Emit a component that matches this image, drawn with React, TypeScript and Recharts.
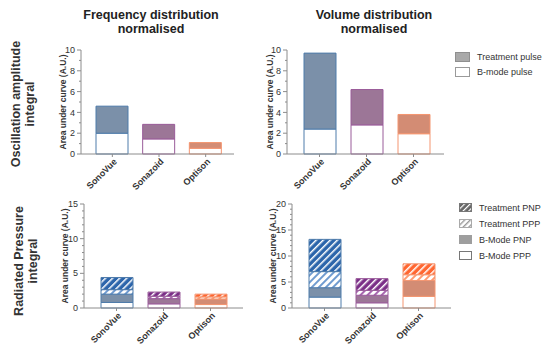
import { Bar, BarChart, Cell, XAxis, YAxis } from "recharts";

const categories = ["SonoVue", "Sonazoid", "Optison"];

// Oscillation amplitude integral: B-mode pulse at the bottom, treatment pulse stacked on top
const freqBmode = [2.0, 1.45, 0.55];
const freqTreatment = [2.6, 1.4, 0.55];
const volBmode = [2.4, 2.8, 1.95];
const volTreatment = [7.3, 3.4, 1.85];

// Radiated pressure integral
const rpFreqBmodePPP = [0.8, 0.6, 0.5];
const rpFreqBmodePNP = [1.2, 0.75, 0.8];
const rpFreqTreatPPP = [0.65, 0.35, 0.3];
const rpFreqTreatPNP = [1.75, 0.6, 0.4];
const rpVolBmodePPP = [2.1, 1.0, 2.25];
const rpVolBmodePNP = [1.8, 1.45, 3.05];
const rpVolTreatPPP = [3.1, 0.95, 1.1];
const rpVolTreatPNP = [6.2, 2.25, 2.1];

const ticks10 = [0, 1, 2, 3, 4, 5, 6, 7, 8, 9, 10];
const ticks15 = [0, 1, 2, 3, 4, 5, 6, 7, 8, 9, 10, 11, 12, 13, 14, 15];
const ticks20 = [0, 1, 2, 3, 4, 5, 6, 7, 8, 9, 10, 11, 12, 13, 14, 15, 16, 17, 18, 19, 20];

const FONT = '"Liberation Sans", Arial, Helvetica, sans-serif';
const AXIS = "#8c8c8c";
const TEXT = "#333";

const palette: Record<string, { stroke: string; solid: string; dark: string; light: string }> = {
  SonoVue: { stroke: "#4f7cab", solid: "#7b90a9", dark: "#2c65ab", light: "#6f9bd0" },
  Sonazoid: { stroke: "#9a5c9a", solid: "#9c7697", dark: "#7b2f88", light: "#a868b0" },
  Optison: { stroke: "#f49570", solid: "#d38c74", dark: "#ff6630", light: "#ff9a70" },
};

const hatchId = (kind: string, name: string) => `hatch-${kind}-${name}`;

const Patterns = () => (
  <svg width={0} height={0} style={{ position: "absolute" }}>
    <defs>
      {categories.map((c) => (
        <pattern key={"d" + c} id={hatchId("dark", c)} patternUnits="userSpaceOnUse" width={5} height={5} patternTransform="rotate(45)">
          <rect width={5} height={5} fill={palette[c].dark} />
          <rect width={1.5} height={5} fill="#fff" />
        </pattern>
      ))}
      {categories.map((c) => (
        <pattern key={"l" + c} id={hatchId("light", c)} patternUnits="userSpaceOnUse" width={5} height={5} patternTransform="rotate(45)">
          <rect width={5} height={5} fill="#fff" />
          <rect width={2} height={5} fill={palette[c].light} />
        </pattern>
      ))}
      <pattern id="leg-dark" patternUnits="userSpaceOnUse" width={4} height={4} patternTransform="rotate(45)">
        <rect width={4} height={4} fill="#666" />
        <rect width={1.2} height={4} fill="#fff" />
      </pattern>
      <pattern id="leg-light" patternUnits="userSpaceOnUse" width={4} height={4} patternTransform="rotate(45)">
        <rect width={4} height={4} fill="#fff" />
        <rect width={1.4} height={4} fill="#999" />
      </pattern>
    </defs>
  </svg>
);

type Series = { key: string; fill: (c: string) => string };

const XTick = ({ x, y, payload }: any) => (
  <text
    x={x + 3}
    y={y + 1}
    dy="0.35em"
    transform={`rotate(-45, ${x + 3}, ${y + 1})`}
    textAnchor="end"
    fontSize={9}
    fontWeight="bold"
    fontFamily={FONT}
    fill={TEXT}
  >
    {payload.value}
  </text>
);

const makeYTick = (major: number) => ({ x, y, payload }: any) => {
  const isMajor = payload.value % major === 0;
  return (
    <g>
      <line x1={isMajor ? x + 2 : x + 4} x2={x + 6} y1={y} y2={y} stroke={AXIS} />
      {isMajor && (
        <text x={x} y={y} dy="0.35em" textAnchor="end" fontSize={9} fontFamily={FONT} fill={TEXT}>
          {payload.value}
        </text>
      )}
    </g>
  );
};

const Panel = ({
  left,
  top,
  width,
  data,
  series,
  yMax,
  ticks,
  major,
  padding,
}: {
  left: number;
  top: number;
  width: number;
  data: any[];
  series: Series[];
  yMax: number;
  ticks: number[];
  major: number;
  padding: { left: number; right: number };
}) => (
  <div style={{ position: "absolute", left, top }}>
    <BarChart width={width} height={155} data={data} margin={{ top: 10, right: 6, left: 11, bottom: 0 }} barSize={32}>
      <XAxis
        dataKey="name"
        height={41}
        padding={padding}
        interval={0}
        tick={<XTick />}
        tickSize={3}
        tickLine={{ stroke: AXIS }}
        axisLine={{ stroke: AXIS }}
      />
      <XAxis xAxisId="top" dataKey="name" orientation="top" height={0} tick={false} tickLine={false} axisLine={{ stroke: AXIS }} />
      <YAxis
        width={40}
        type="number"
        domain={[0, yMax]}
        ticks={ticks}
        interval={0}
        tick={makeYTick(major)}
        tickLine={false}
        tickSize={4}
        tickMargin={2}
        axisLine={{ stroke: AXIS }}
      />
      <YAxis yAxisId="right" orientation="right" width={0} tick={false} tickLine={false} axisLine={{ stroke: AXIS }} />
      {series.map((s) => (
        <Bar key={s.key} dataKey={s.key} stackId="s" isAnimationActive={false}>
          {data.map((d) => (
            <Cell key={d.name} fill={s.fill(d.name)} stroke={palette[d.name].stroke} strokeWidth={1} />
          ))}
        </Bar>
      ))}
    </BarChart>
  </div>
);

const pulseSeries: Series[] = [
  { key: "bmode", fill: () => "#fff" },
  { key: "treat", fill: (c) => palette[c].solid },
];

const pressureSeries: Series[] = [
  { key: "bPPP", fill: () => "#fff" },
  { key: "bPNP", fill: (c) => palette[c].solid },
  { key: "tPPP", fill: (c) => `url(#${hatchId("light", c)})` },
  { key: "tPNP", fill: (c) => `url(#${hatchId("dark", c)})` },
];

const freqData = categories.map((name, i) => ({ name, bmode: freqBmode[i], treat: freqTreatment[i] }));
const volData = categories.map((name, i) => ({ name, bmode: volBmode[i], treat: volTreatment[i] }));
const rpFreqData = categories.map((name, i) => ({
  name,
  bPPP: rpFreqBmodePPP[i],
  bPNP: rpFreqBmodePNP[i],
  tPPP: rpFreqTreatPPP[i],
  tPNP: rpFreqTreatPNP[i],
}));
const rpVolData = categories.map((name, i) => ({
  name,
  bPPP: rpVolBmodePPP[i],
  bPNP: rpVolBmodePNP[i],
  tPPP: rpVolTreatPPP[i],
  tPNP: rpVolTreatPNP[i],
}));

const Rotated = ({ cx, cy, size, bold, lines }: { cx: number; cy: number; size: number; bold?: boolean; lines: string[] }) => (
  <div
    style={{
      position: "absolute",
      left: cx,
      top: cy,
      transform: "translate(-50%, -50%) rotate(-90deg)",
      whiteSpace: "nowrap",
      textAlign: "center",
      fontSize: size,
      lineHeight: `${size + 1.5}px`,
      fontWeight: bold ? "bold" : "normal",
      color: TEXT,
    }}
  >
    {lines.map((l) => (
      <div key={l}>{l}</div>
    ))}
  </div>
);

const Title = ({ cx, cy, lines }: { cx: number; cy: number; lines: string[] }) => (
  <div
    style={{
      position: "absolute",
      left: cx,
      top: cy,
      transform: "translate(-50%, -50%)",
      whiteSpace: "nowrap",
      textAlign: "center",
      fontSize: 12.5,
      lineHeight: "13.5px",
      fontWeight: "bold",
      color: "#222",
    }}
  >
    {lines.map((l) => (
      <div key={l}>{l}</div>
    ))}
  </div>
);

const LegendItem = ({ x, y, w, h, fill, stroke, label }: any) => (
  <div style={{ position: "absolute", left: x, top: y - h / 2, display: "flex", alignItems: "center", height: h }}>
    <svg width={w + 1} height={h + 1} style={{ display: "block" }}>
      <rect x={0.5} y={0.5} width={w} height={h} fill={fill} stroke={stroke} />
    </svg>
    <span style={{ marginLeft: 7, fontSize: 9, color: TEXT, lineHeight: "10px" }}>{label}</span>
  </div>
);

export default function App() {
  return (
    <div
      style={{
        position: "absolute",
        left: 0,
        top: 0,
        width: 550,
        height: 348,
        background: "#fff",
        fontFamily: FONT,
        overflow: "hidden",
      }}
    >
      <Patterns />
      <Title cx={151} cy={22} lines={["Frequency distribution", "normalised"]} />
      <Title cx={374} cy={22} lines={["Volume distribution", "normalised"]} />
      <Rotated cx={23} cy={104} size={12.5} bold lines={["Oscillation amplitude", "integral"]} />
      <Rotated cx={25.5} cy={261} size={12.5} bold lines={["Radiated Pressure", "integral"]} />
      <Rotated cx={62.5} cy={102} size={8.5} bold lines={["Area under curve (A.U.)"]} />
      <Rotated cx={270} cy={102} size={8.5} bold lines={["Area under curve (A.U.)"]} />
      <Rotated cx={65} cy={256} size={8.5} bold lines={["Area under curve (A.U.)"]} />
      <Rotated cx={273} cy={256} size={8.5} bold lines={["Area under curve (A.U.)"]} />

      <Panel left={30} top={40} width={210} data={freqData} series={pulseSeries} yMax={10} ticks={ticks10} major={2} padding={{ left: 8, right: 5 }} />
      <Panel left={236} top={40} width={214} data={volData} series={pulseSeries} yMax={10} ticks={ticks10} major={2} padding={{ left: 9, right: 7 }} />
      <Panel left={33} top={194} width={216} data={rpFreqData} series={pressureSeries} yMax={15} ticks={ticks15} major={5} padding={{ left: 9, right: 9 }} />
      <Panel left={241} top={194} width={216} data={rpVolData} series={pressureSeries} yMax={20} ticks={ticks20} major={5} padding={{ left: 9, right: 9 }} />

      <LegendItem x={455} y={56.5} w={14} h={9} fill="#a9a9a9" stroke="#8f8f8f" label="Treatment pulse" />
      <LegendItem x={455} y={72} w={14} h={9} fill="#fff" stroke="#9a9a9a" label="B-mode pulse" />

      <LegendItem x={459} y={207.5} w={12} h={8} fill="url(#leg-dark)" stroke="#777" label="Treatment PNP" />
      <LegendItem x={459} y={223.5} w={12} h={8} fill="url(#leg-light)" stroke="#aaa" label="Treatment PPP" />
      <LegendItem x={459} y={239.5} w={12} h={8} fill="#9e9e9e" stroke="#9e9e9e" label="B-Mode PNP" />
      <LegendItem x={459} y={255.5} w={12} h={8} fill="#fff" stroke="#777" label="B-Mode PPP" />
    </div>
  );
}
